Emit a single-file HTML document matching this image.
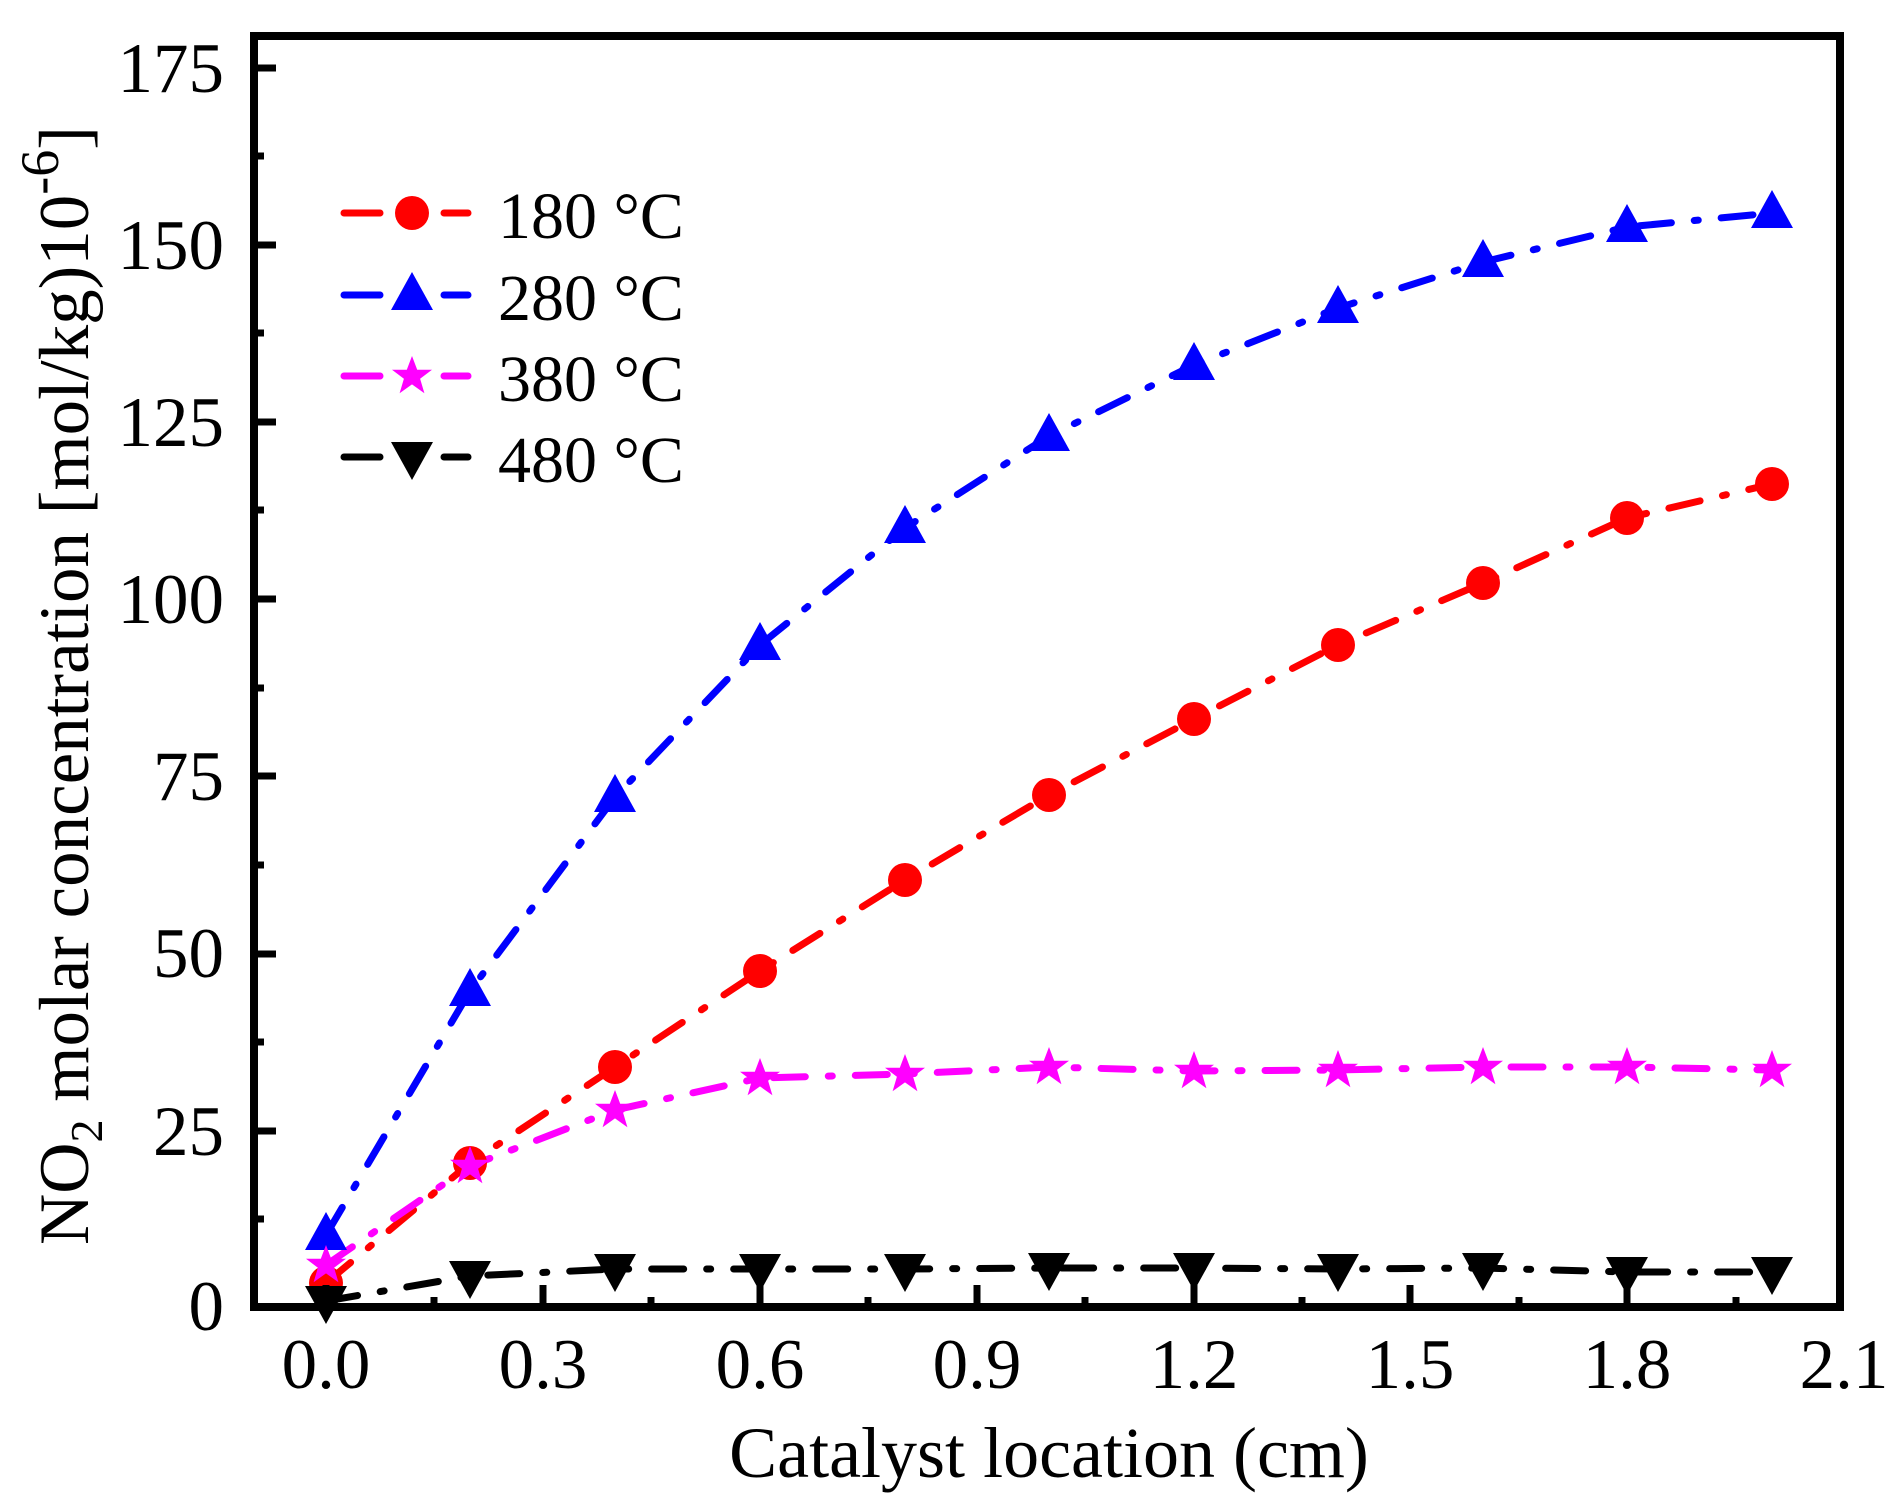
<!DOCTYPE html>
<html><head><meta charset="utf-8"><style>html,body{margin:0;padding:0;background:#fff}svg{display:block}</style></head>
<body>
<svg width="1896" height="1501" viewBox="0 0 1896 1501" xmlns="http://www.w3.org/2000/svg" font-family="Liberation Serif, serif">
<defs>
<circle id="mc" r="17" fill="#ff0000"/>
<polygon id="mt" points="0,-23 21,15 -21,15" fill="#0000ff"/>
<polygon id="md" points="0,23 21,-15 -21,-15" fill="#000"/>
<polygon id="ms" points="0,-20 5.2,-6.2 20,-6.2 8.1,2.7 12.4,17.3 0,8.4 -12.4,17.3 -8.1,2.7 -20,-6.2 -5.2,-6.2" fill="#ff00ff"/>
</defs>
<g fill="none" stroke-width="7" stroke-linecap="round" stroke-dasharray="32 23 4 23">
<polyline stroke="#ff0000" points="326,1283 470,1163 615,1067 760,971 905,880 1049,795 1194,719 1338,645 1483,583 1627,518 1772,484"/>
<polyline stroke="#0000ff" points="326,1235 470,991 615,797 760,645 905,528 1049,436 1194,365 1338,308 1483,262 1627,227 1772,213"/>
<polyline stroke="#ff00ff" points="326,1265 470,1166 615,1110 760,1078 905,1074 1049,1067 1194,1071 1338,1070 1483,1067 1627,1067 1772,1070"/>
<polyline stroke="#000" points="326,1301 470,1276 615,1269 760,1269 905,1269 1049,1268 1194,1268 1338,1269 1483,1268 1627,1272 1772,1272"/>
</g>
<g>
<use href="#mc" x="326" y="1283"/><use href="#mc" x="470" y="1163"/><use href="#mc" x="615" y="1067"/><use href="#mc" x="760" y="971"/><use href="#mc" x="905" y="880"/><use href="#mc" x="1049" y="795"/><use href="#mc" x="1194" y="719"/><use href="#mc" x="1338" y="645"/><use href="#mc" x="1483" y="583"/><use href="#mc" x="1627" y="518"/><use href="#mc" x="1772" y="484"/>
<use href="#mt" x="326" y="1235"/><use href="#mt" x="470" y="991"/><use href="#mt" x="615" y="797"/><use href="#mt" x="760" y="645"/><use href="#mt" x="905" y="528"/><use href="#mt" x="1049" y="436"/><use href="#mt" x="1194" y="365"/><use href="#mt" x="1338" y="308"/><use href="#mt" x="1483" y="262"/><use href="#mt" x="1627" y="227"/><use href="#mt" x="1772" y="213"/>
<use href="#ms" x="326" y="1265"/><use href="#ms" x="470" y="1166"/><use href="#ms" x="615" y="1110"/><use href="#ms" x="760" y="1078"/><use href="#ms" x="905" y="1074"/><use href="#ms" x="1049" y="1067"/><use href="#ms" x="1194" y="1071"/><use href="#ms" x="1338" y="1070"/><use href="#ms" x="1483" y="1067"/><use href="#ms" x="1627" y="1067"/><use href="#ms" x="1772" y="1070"/>
<use href="#md" x="326" y="1301"/><use href="#md" x="470" y="1276"/><use href="#md" x="615" y="1269"/><use href="#md" x="760" y="1269"/><use href="#md" x="905" y="1269"/><use href="#md" x="1049" y="1268"/><use href="#md" x="1194" y="1268"/><use href="#md" x="1338" y="1269"/><use href="#md" x="1483" y="1268"/><use href="#md" x="1627" y="1272"/><use href="#md" x="1772" y="1272"/>
</g>
<rect x="254" y="36" width="1586" height="1271" fill="none" stroke="#000" stroke-width="8"/>
<g stroke="#000" stroke-width="7">
<path d="M254 1131H276M254 954H276M254 776H276M254 599H276M254 422H276M254 245H276M254 68H276"/>
<path d="M254 1219H264M254 1042H264M254 865H264M254 688H264M254 510H264M254 333H264M254 156H264"/>
<path d="M326 1307V1285M543 1307V1285M760 1307V1285M977 1307V1285M1194 1307V1285M1410 1307V1285M1627 1307V1285"/>
<path d="M434 1307V1297M651 1307V1297M868 1307V1297M1085 1307V1297M1302 1307V1297M1519 1307V1297M1736 1307V1297"/>
</g>
<g font-size="71" text-anchor="end" fill="#000">
<text x="224" y="1330">0</text><text x="224" y="1155">25</text><text x="224" y="977">50</text><text x="224" y="800">75</text><text x="224" y="623">100</text><text x="224" y="446">125</text><text x="224" y="269">150</text><text x="224" y="92">175</text>
</g>
<g font-size="71" text-anchor="middle" fill="#000">
<text x="326" y="1388">0.0</text><text x="543" y="1388">0.3</text><text x="760" y="1388">0.6</text><text x="977" y="1388">0.9</text><text x="1194" y="1388">1.2</text><text x="1410" y="1388">1.5</text><text x="1627" y="1388">1.8</text><text x="1844" y="1388">2.1</text>
</g>
<text x="1049" y="1477" font-size="72" text-anchor="middle">Catalyst location (cm)</text>
<text transform="translate(88,1245) rotate(-90)" font-size="71">NO<tspan font-size="46" dy="14">2</tspan><tspan dy="-14"> molar concentration [mol/kg)10</tspan><tspan font-size="54" dy="-30">-6</tspan><tspan dy="30">]</tspan></text>
<g stroke-width="7" stroke-linecap="round">
<path d="M344 213H380M444 213H468" stroke="#ff0000"/>
<path d="M344 295H380M444 295H468" stroke="#0000ff"/>
<path d="M344 376H380M444 376H468" stroke="#ff00ff"/>
<path d="M344 457H380M444 457H468" stroke="#000"/>
</g>
<use href="#mc" x="412" y="213"/><use href="#mt" x="412" y="295"/><use href="#ms" x="412" y="376"/><use href="#md" x="412" y="457"/>
<g font-size="66" fill="#000">
<text x="498" y="238">180 °C</text><text x="498" y="320">280 °C</text><text x="498" y="401">380 °C</text><text x="498" y="482">480 °C</text>
</g>
</svg>
</body></html>
